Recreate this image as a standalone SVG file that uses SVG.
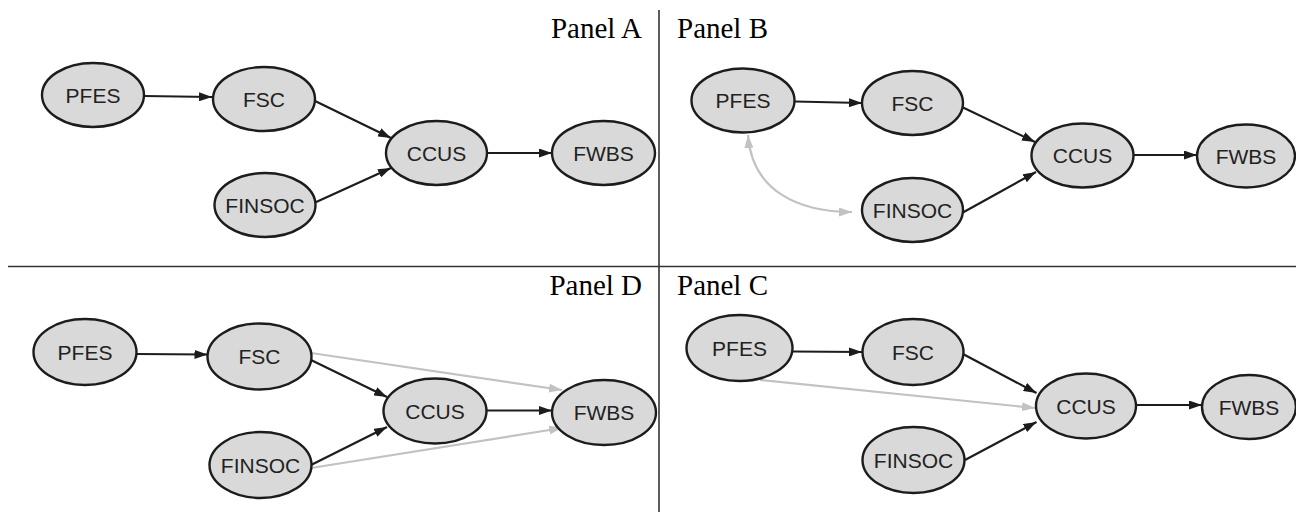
<svg xmlns="http://www.w3.org/2000/svg" width="1296" height="512" viewBox="0 0 1296 512">
<style>
.bg{fill:#ffffff}
.node ellipse{fill:#d9d9d9;stroke:#1c1c1c;stroke-width:2.4}
.node text{font-family:"Liberation Sans",Arial,sans-serif;font-size:21px;fill:#222;text-anchor:middle}
.panel{font-family:"Liberation Serif","Times New Roman",serif;font-size:29px;fill:#000}
.div{stroke:#333;stroke-width:1.6;fill:none}
.e{stroke:#1c1c1c;stroke-width:2.2;fill:none;marker-end:url(#ab)}
.g{stroke:#c2c2c2;stroke-width:2.2;fill:none;marker-end:url(#ag)}
</style>
<defs>
<marker id="ab" viewBox="0 0 13 9" markerWidth="13" markerHeight="9" refX="13" refY="4.5" orient="auto" markerUnits="userSpaceOnUse"><path d="M0,0 L13,4.5 L0,9 z" fill="#1c1c1c"/></marker>
<marker id="ag" viewBox="0 0 13 9" markerWidth="13" markerHeight="9" refX="13" refY="4.5" orient="auto-start-reverse" markerUnits="userSpaceOnUse"><path d="M0,0 L13,4.5 L0,9 z" fill="#c2c2c2"/></marker>
</defs>
<rect class="bg" x="0" y="0" width="1296" height="512"/>
<g id="dividers">
<line class="div" x1="659" y1="10" x2="659" y2="512"/>
<line class="div" x1="8" y1="266.5" x2="1296" y2="266.5"/>
</g>
<g id="labels">
<text class="panel" x="642" y="37.5" text-anchor="end">Panel A</text>
<text class="panel" x="677" y="37.5">Panel B</text>
<text class="panel" x="642" y="295" text-anchor="end">Panel D</text>
<text class="panel" x="677" y="295">Panel C</text>
</g>
<g id="connectors">
<path class="e" d="M144,96 L212,97"/>
<path class="e" d="M313,100 L391,138"/>
<path class="e" d="M314,203 L391,168"/>
<path class="e" d="M487,153 L552,153"/>
<path class="e" d="M795,101.5 L862,103"/>
<path class="e" d="M962,107 L1035,142"/>
<path class="e" d="M962,213 L1036,172"/>
<path class="e" d="M1133,155 L1197,155"/>
<path class="g" style="marker-start:url(#ag)" d="M748,135 C752,192 800,212 852,212"/>
<path class="g" d="M311,353 L562,390"/>
<path class="g" d="M311,468 L562,428"/>
<path class="e" d="M136.5,354 L207.5,354.5"/>
<path class="e" d="M311,360 L387,397"/>
<path class="e" d="M311,465 L387,427"/>
<path class="e" d="M486.5,410.5 L552,410.5"/>
<path class="g" d="M760,380 L1035,408"/>
<path class="e" d="M792.5,351.5 L862,352"/>
<path class="e" d="M963,354 L1036.5,393"/>
<path class="e" d="M965,460 L1036.5,422"/>
<path class="e" d="M1136.5,405 L1202,405"/>
</g>
<g id="A_PFES" class="node"><ellipse cx="93" cy="95" rx="51" ry="32"/><text x="93" y="102.5">PFES</text></g>
<g id="A_FSC" class="node"><ellipse cx="264" cy="99" rx="51" ry="32"/><text x="264" y="106.5">FSC</text></g>
<g id="A_FINSOC" class="node"><ellipse cx="265" cy="205" rx="50.5" ry="32"/><text x="265" y="212.5">FINSOC</text></g>
<g id="A_CCUS" class="node"><ellipse cx="436.5" cy="153" rx="50.5" ry="32"/><text x="436.5" y="160.5">CCUS</text></g>
<g id="A_FWBS" class="node"><ellipse cx="603.5" cy="153" rx="51.5" ry="32"/><text x="603.5" y="160.5">FWBS</text></g>
<g id="B_PFES" class="node"><ellipse cx="743" cy="100.5" rx="51.5" ry="32"/><text x="743" y="108">PFES</text></g>
<g id="B_FSC" class="node"><ellipse cx="912.5" cy="103" rx="50.5" ry="32"/><text x="912.5" y="110.5">FSC</text></g>
<g id="B_FINSOC" class="node"><ellipse cx="912.5" cy="210" rx="50.5" ry="32"/><text x="912.5" y="217.5">FINSOC</text></g>
<g id="B_CCUS" class="node"><ellipse cx="1082.5" cy="155.5" rx="51" ry="32"/><text x="1082.5" y="163">CCUS</text></g>
<g id="B_FWBS" class="node"><ellipse cx="1246" cy="156" rx="49" ry="31.5"/><text x="1246" y="163.5">FWBS</text></g>
<g id="D_PFES" class="node"><ellipse cx="85" cy="352" rx="51.5" ry="33"/><text x="85" y="359.5">PFES</text></g>
<g id="D_FSC" class="node"><ellipse cx="259.5" cy="356.5" rx="52" ry="33"/><text x="259.5" y="364">FSC</text></g>
<g id="D_FINSOC" class="node"><ellipse cx="260.5" cy="465" rx="51" ry="33"/><text x="260.5" y="472.5">FINSOC</text></g>
<g id="D_CCUS" class="node"><ellipse cx="435" cy="411" rx="51.5" ry="32.5"/><text x="435" y="418.5">CCUS</text></g>
<g id="D_FWBS" class="node"><ellipse cx="604" cy="412.5" rx="52" ry="32.5"/><text x="604" y="420">FWBS</text></g>
<g id="C_PFES" class="node"><ellipse cx="739.5" cy="348" rx="53" ry="33"/><text x="739.5" y="355.5">PFES</text></g>
<g id="C_FSC" class="node"><ellipse cx="913" cy="352" rx="50.5" ry="33"/><text x="913" y="359.5">FSC</text></g>
<g id="C_FINSOC" class="node"><ellipse cx="913.5" cy="460" rx="51" ry="33"/><text x="913.5" y="467.5">FINSOC</text></g>
<g id="C_CCUS" class="node"><ellipse cx="1086" cy="406" rx="50" ry="32.5"/><text x="1086" y="413.5">CCUS</text></g>
<g id="C_FWBS" class="node"><ellipse cx="1249" cy="407" rx="47" ry="32"/><text x="1249" y="414.5">FWBS</text></g>
</svg>
